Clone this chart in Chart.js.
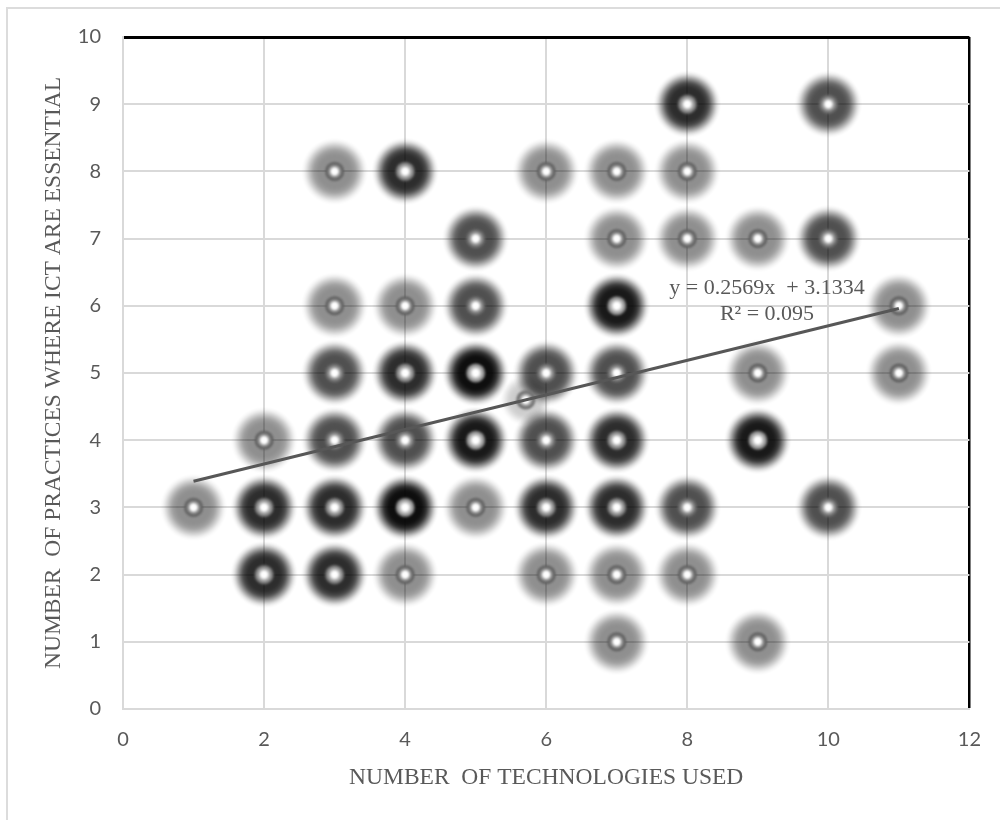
<!DOCTYPE html>
<html>
<head>
<meta charset="utf-8">
<script src="https://cdn.jsdelivr.net/npm/chart.js@4.4.1/dist/chart.umd.min.js"></script>
<style>
  html, body { margin: 0; padding: 0; background: #ffffff; }
  #wrap { position: relative; width: 1000px; height: 820px; overflow: hidden; }
  #frame { position: absolute; left: 6px; top: 7px; width: 1010px; height: 830px;
           border: 2px solid #dcdcdc; box-sizing: border-box; }
  #c { position: absolute; left: 0; top: 0; }
</style>
</head>
<body>
<div id="wrap">
  <div id="frame"></div>
  <canvas id="c" width="1000" height="820"></canvas>
</div>
<script>
// Survey responses grouped by (technologies used, practices where ICT is essential).
// responseCount = how many responses fall on the same grid position.
const techUsed      = [8, 10,  3, 4, 6, 7, 8,  5, 7, 8, 9, 10,  3, 4, 5, 7, 11,  3, 4, 5, 6, 7, 9, 11,  2, 3, 4, 5, 6, 7, 9,  1, 2, 3, 4, 5, 6, 7, 8, 10,  2, 3, 4, 6, 7, 8,  7, 9];
const practicesICT  = [9,  9,  8, 8, 8, 8, 8,  7, 7, 7, 7,  7,  6, 6, 6, 6,  6,  5, 5, 5, 5, 5, 5,  5,  4, 4, 4, 4, 4, 4, 4,  3, 3, 3, 3, 3, 3, 3, 3,  3,  2, 2, 2, 2, 2, 2,  1, 1];
const responseCount = [3,  2,  1, 3, 1, 1, 1,  2, 1, 1, 1,  2,  1, 1, 2, 4,  1,  2, 3, 5, 2, 2, 1,  1,  1, 2, 2, 4, 2, 3, 4,  1, 3, 3, 5, 1, 3, 3, 2,  2,  3, 3, 1, 1, 1, 1,  1, 1];

// Mean point (x̄, ȳ) of the responses
const meanPoint = [5.71, 4.6];

// Linear trend line as reported on the chart
const trendSlope = 0.2569;
const trendIntercept = 3.1334;
const trendR2 = 0.095;
const trendRange = [1, 11];

// Axis ranges and labels
const xRange = [0, 12];
const xStep = 2;
const yRange = [0, 10];
const yStep = 1;
const xTitle = 'NUMBER  OF TECHNOLOGIES USED';
const yTitle = 'NUMBER  OF PRACTICES WHERE ICT ARE ESSENTIAL';
const eqLine1 = 'y = ' + trendSlope.toFixed(4) + 'x  + ' + trendIntercept.toFixed(4);
const eqLine2 = 'R² = ' + trendR2.toFixed(3);

const textGrey = '#595959';
const gridGrey = '#d9d9d9';

// Soft glowing marker sprite; overlapping responses stack their glow.
const spriteCache = {};
function markerSprite(n, light) {
  const key = n + (light ? 'L' : '');
  if (spriteCache[key]) return spriteCache[key];
  const S = 76, c = S / 2;
  const raw = document.createElement('canvas');
  raw.width = raw.height = S;
  const g = raw.getContext('2d');
  const a = light ? 0.2 : 1 - Math.pow(1 - 0.44, n);
  const R = light ? 26 : 33;
  const grad = g.createRadialGradient(c, c, 0, c, c, R);
  grad.addColorStop(0, `rgba(0,0,0,${a})`);
  grad.addColorStop(0.5, `rgba(0,0,0,${a})`);
  grad.addColorStop(0.64, `rgba(0,0,0,${a * 0.86})`);
  grad.addColorStop(0.78, `rgba(0,0,0,${a * 0.47})`);
  grad.addColorStop(0.9, `rgba(0,0,0,${a * 0.13})`);
  grad.addColorStop(1, 'rgba(0,0,0,0)');
  g.fillStyle = grad;
  g.beginPath(); g.arc(c, c, R, 0, Math.PI * 2); g.fill();

  const t = light ? 0.3 : Math.min((n - 1) / 3, 1);
  const outer = Math.round(95 + 45 * t);
  const inner = Math.round(150 + 45 * t);
  g.fillStyle = `rgb(${outer},${outer},${outer})`;
  g.beginPath(); g.arc(c, c, 9.5, 0, Math.PI * 2); g.fill();
  g.fillStyle = `rgb(${inner},${inner},${inner})`;
  g.beginPath(); g.arc(c, c, 6.8, 0, Math.PI * 2); g.fill();
  g.fillStyle = '#ffffff';
  g.beginPath(); g.arc(c, c, 4.2, 0, Math.PI * 2); g.fill();

  const out = document.createElement('canvas');
  out.width = out.height = S;
  const o = out.getContext('2d');
  o.filter = 'blur(0.8px)';
  o.drawImage(raw, 0, 0);
  spriteCache[key] = out;
  return out;
}

const responsePoints = techUsed.map((x, i) => ({ x: x, y: practicesICT[i], n: responseCount[i] }));
const trendPoints = trendRange.map(x => ({ x: x, y: trendSlope * x + trendIntercept }));

// Equation label anchored in data coordinates
const equationLabel = {
  id: 'equationLabel',
  afterDatasetsDraw(chart) {
    const { ctx, scales } = chart;
    const px = scales.x.getPixelForValue(9.13);
    const py1 = scales.y.getPixelForValue(6.26);
    const py2 = scales.y.getPixelForValue(5.87);
    ctx.save();
    ctx.fillStyle = textGrey;
    ctx.font = '22px "Liberation Serif", "Times New Roman", serif';
    ctx.textAlign = 'center';
    ctx.textBaseline = 'middle';
    ctx.fillText(eqLine1, px, py1);
    ctx.fillText(eqLine2, px, py2);
    ctx.restore();
  }
};

new Chart(document.getElementById('c'), {
  type: 'scatter',
  data: {
    datasets: [
      {
        type: 'line',
        label: 'Linear trend',
        data: trendPoints,
        borderColor: '#575757',
        borderWidth: 3,
        pointRadius: 0,
        fill: false,
        order: 0
      },
      {
        label: 'Mean',
        data: [{ x: meanPoint[0], y: meanPoint[1] }],
        pointStyle: () => markerSprite(1, true),
        pointRadius: 8,
        order: 1
      },
      {
        label: 'Responses',
        data: responsePoints,
        pointStyle: (ctx) => markerSprite(ctx.raw ? ctx.raw.n : 1, false),
        pointRadius: 8,
        order: 2
      }
    ]
  },
  options: {
    responsive: false,
    animation: false,
    events: [],
    layout: { padding: { top: 37, right: 30, left: 0, bottom: 0 } },
    plugins: { legend: { display: false }, tooltip: { enabled: false } },
    scales: {
      x: {
        type: 'linear',
        min: xRange[0], max: xRange[1],
        afterFit: (s) => { s.height = 111; },
        ticks: {
          stepSize: xStep,
          padding: 19,
          color: textGrey,
          font: { family: 'Lato', size: 20 }
        },
        grid: {
          drawTicks: false,
          color: (ctx) => (ctx.tick && ctx.tick.value === xRange[1]) ? '#000000' : gridGrey,
          lineWidth: (ctx) => (ctx.tick && ctx.tick.value === xRange[1]) ? 2.5 : 2
        },
        border: { color: gridGrey, width: 2 },
        title: {
          display: true,
          text: xTitle,
          color: textGrey,
          font: { family: 'Liberation Serif', size: 23.5 },
          padding: { top: 0, bottom: 28 }
        }
      },
      y: {
        type: 'linear',
        min: yRange[0], max: yRange[1],
        afterFit: (s) => { s.width = 123; },
        ticks: {
          stepSize: yStep,
          padding: 22,
          color: textGrey,
          font: { family: 'Lato', size: 20 }
        },
        grid: {
          drawTicks: false,
          color: (ctx) => (ctx.tick && ctx.tick.value === yRange[1]) ? '#000000' : gridGrey,
          lineWidth: (ctx) => (ctx.tick && ctx.tick.value === yRange[1]) ? 3 : 2
        },
        border: { color: gridGrey, width: 2 },
        title: {
          display: true,
          text: yTitle,
          color: textGrey,
          font: { family: 'Liberation Serif', size: 23.5 },
          padding: { top: 40, bottom: 0 }
        }
      }
    }
  },
  plugins: [equationLabel]
});
</script>
</body>
</html>
